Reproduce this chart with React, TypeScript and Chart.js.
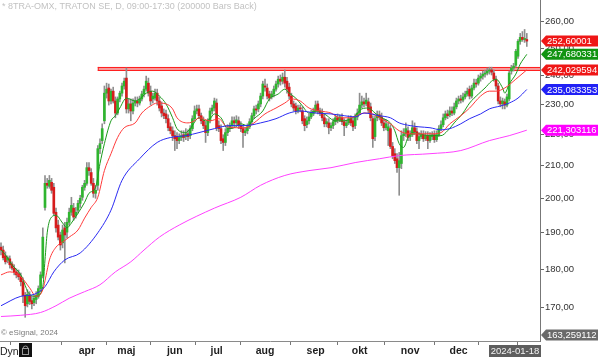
import React, { useEffect, useRef } from 'react';
import { Chart, registerables } from 'chart.js';

Chart.register(...registerables);

// ---- daily OHLC (bar index 0 = first visible day, last = 2024-01-18) ----
const opens = [
  186.0,185.2,183.6,182.5,182.8,181.4,180.3,179.3,178.8,178.0,176.7,173.1,171.0,173.1,171.8,171.3,172.1,172.9,174.9,178.2,
  197.3,204.5,203.6,204.8,203.3,195.9,192.2,189.4,187.2,191.4,190.2,193.0,195.9,197.1,195.0,196.5,198.5,200.3,203.3,204.5,
  209.3,207.8,204.5,201.5,203.9,215.3,217.9,224.4,233.8,235.6,231.1,234.5,231.1,227.0,231.8,233.8,236.3,239.1,228.4,230.1,
  227.7,230.4,231.1,230.4,231.8,233.5,235.2,237.3,234.5,231.8,232.1,233.8,231.1,229.4,227.0,226.7,225.1,222.4,221.1,219.5,
  219.2,217.9,218.9,219.8,219.2,220.1,219.5,221.8,225.1,227.7,228.4,226.1,224.4,222.8,220.5,224.4,227.7,228.7,230.4,222.8,
  221.8,218.5,217.3,220.5,221.8,222.8,224.4,223.7,224.4,222.8,221.8,220.5,221.1,222.4,224.1,226.1,228.4,228.4,230.1,232.8,
  236.3,235.6,233.5,232.5,233.5,235.2,237.0,238.7,238.0,239.4,238.0,235.9,232.8,230.1,229.4,227.7,228.7,227.7,225.1,223.1,
  224.4,225.7,226.7,227.7,230.1,227.7,227.0,225.4,223.4,223.7,222.1,222.8,224.1,225.4,224.7,225.4,224.1,222.8,223.7,225.1,
  224.4,222.8,225.7,227.0,229.7,230.8,230.1,230.8,229.1,225.1,219.2,225.4,226.4,225.7,223.7,222.1,221.1,221.8,216.0,213.7,
  212.1,209.3,210.6,219.5,220.1,221.1,219.2,219.8,222.1,220.8,217.9,219.2,219.8,218.5,219.5,217.9,219.2,219.8,218.2,219.8,
  221.8,223.1,225.4,226.7,226.4,227.7,227.0,229.1,231.1,231.8,231.4,232.5,233.5,235.2,232.8,235.6,237.3,237.3,239.1,239.8,
  240.5,240.9,241.6,242.0,240.9,238.7,236.3,231.1,230.1,230.8,229.7,231.8,241.6,242.7,243.7,247.0,252.5,254.0,253.2,253.2,
];
const highs = [
  187.2,186.3,184.7,183.6,183.6,182.0,181.2,180.1,179.8,179.0,177.7,173.9,174.6,174.1,172.9,173.1,174.1,175.6,179.3,191.4,
  206.9,206.0,206.9,206.0,204.5,197.1,193.6,190.2,192.2,193.0,194.2,197.1,200.3,198.5,197.3,199.4,200.9,203.9,205.4,210.9,
  210.9,209.0,206.0,203.9,216.3,218.5,223.4,236.3,237.3,237.0,235.2,235.9,232.5,232.5,234.5,237.3,239.1,242.7,231.8,231.8,
  231.8,232.5,232.5,232.8,234.5,236.3,239.8,239.1,236.3,233.8,235.2,235.2,232.5,230.8,228.4,228.0,226.4,223.7,222.4,221.1,
  220.5,220.1,221.1,221.1,221.8,221.4,222.8,226.1,229.4,229.7,229.7,227.0,225.7,224.1,225.1,228.7,229.7,232.1,231.8,224.4,
  223.1,219.8,221.8,223.1,223.7,225.7,225.7,226.1,225.7,224.1,223.1,222.1,223.4,225.1,227.0,229.4,229.7,231.1,233.8,238.0,
  238.7,237.0,234.5,234.5,236.3,238.0,239.8,240.2,240.9,242.0,239.4,237.3,233.8,231.1,230.4,229.7,229.7,229.1,226.1,225.7,
  226.7,228.0,228.7,231.1,231.1,228.7,228.4,226.7,225.1,225.1,223.7,225.1,226.4,226.7,226.4,226.7,225.1,224.7,226.1,226.1,
  225.4,226.7,228.4,233.8,232.8,232.1,233.8,232.1,230.4,226.1,226.1,227.7,227.7,227.0,225.1,224.7,223.7,223.1,217.3,215.3,
  213.7,214.1,221.1,221.8,223.7,222.4,221.1,224.4,223.7,222.1,220.5,221.1,221.1,220.8,220.8,220.5,220.8,221.1,221.1,222.8,
  224.4,226.7,227.7,228.0,229.1,229.1,230.4,232.1,232.8,233.1,233.8,234.5,235.6,236.3,236.6,238.7,238.7,240.2,240.9,241.6,
  242.0,242.7,243.0,243.0,242.0,239.8,237.3,232.5,232.1,231.8,233.5,241.6,243.7,244.4,249.5,253.2,255.5,256.2,257.0,255.5,
];
const lows = [
  183.9,182.5,181.4,181.7,180.3,179.8,178.5,177.7,177.2,175.6,171.3,167.6,170.2,170.8,169.7,170.5,171.0,172.4,174.1,177.7,
  196.5,203.0,203.0,201.5,195.0,190.2,188.0,185.2,185.8,181.7,188.6,192.2,195.0,193.6,194.2,195.6,197.3,199.4,202.4,203.9,
  206.9,203.9,200.3,200.0,202.4,213.7,216.9,223.4,232.1,229.7,230.1,230.4,225.4,226.4,230.8,232.8,235.2,227.0,227.0,224.4,
  226.7,229.4,229.1,229.7,231.1,232.5,234.5,232.8,229.7,230.4,231.4,229.7,227.7,225.7,225.1,223.7,221.1,220.1,217.9,214.7,
  215.3,216.9,217.9,217.6,218.2,217.9,218.5,221.1,224.4,226.7,225.1,223.4,221.8,217.3,219.5,223.7,226.7,227.7,221.1,220.8,
  216.9,214.7,216.3,219.5,220.8,221.8,222.4,223.1,221.8,220.8,215.7,219.5,220.1,221.8,223.1,225.1,226.7,227.4,229.1,231.8,
  234.5,231.8,231.1,231.8,232.5,234.5,235.9,236.6,237.0,235.9,233.8,231.8,229.1,227.7,226.7,227.0,227.4,223.4,221.1,222.1,
  223.4,225.1,226.1,227.0,226.7,226.1,224.4,222.4,222.4,220.1,221.1,221.8,223.1,223.7,224.1,223.1,219.5,222.1,223.1,222.8,
  221.1,221.8,224.7,226.4,228.7,229.1,229.4,227.0,224.4,215.7,217.9,224.4,224.7,222.8,221.1,221.4,216.3,215.3,212.1,210.6,
  207.8,200.9,209.0,217.9,219.2,217.9,217.9,219.2,219.8,216.9,215.3,218.5,217.6,217.9,215.3,217.3,218.2,217.3,217.6,219.2,
  221.1,222.4,224.7,225.1,225.7,226.1,226.4,228.4,230.1,230.4,230.8,231.8,232.8,231.8,232.1,234.9,235.9,236.6,238.0,238.7,
  239.4,240.2,240.5,240.2,238.0,235.2,230.1,229.1,228.4,228.4,229.1,231.1,240.5,241.6,243.0,246.2,251.4,252.5,252.1,250.6,
];
const closes = [
  185.2,183.1,182.0,183.1,181.2,180.3,179.3,178.5,178.0,176.7,173.1,170.5,173.4,171.6,171.0,172.4,173.1,174.9,178.5,188.8,
  204.5,203.9,205.4,202.4,195.6,191.4,188.8,186.6,190.8,189.4,193.0,195.9,197.9,194.5,195.9,198.5,200.0,203.3,204.5,209.3,
  208.4,204.5,201.5,202.4,215.3,216.9,221.8,233.8,235.2,231.1,234.5,231.1,227.0,231.8,233.8,236.3,238.0,228.4,230.1,227.7,
  230.4,231.1,230.4,231.8,233.5,235.2,238.0,233.8,231.1,232.8,233.8,231.1,228.7,227.0,226.1,225.1,222.1,221.1,219.5,218.5,
  217.9,218.9,219.5,218.9,220.1,219.2,221.8,225.1,227.7,228.4,226.1,224.4,222.8,220.5,224.4,227.7,228.7,231.1,222.1,221.8,
  217.9,217.3,220.5,221.8,222.8,224.4,223.7,224.7,222.8,221.8,220.5,221.1,222.4,224.1,226.1,228.4,228.0,230.1,232.8,237.0,
  235.9,232.8,232.1,233.5,235.2,237.0,238.7,238.0,239.4,237.3,235.2,232.8,230.1,228.7,227.7,228.7,228.4,224.4,222.8,224.4,
  225.7,227.0,227.7,229.7,227.7,227.0,225.4,223.4,224.1,222.1,222.8,224.1,225.4,224.7,225.7,224.1,222.8,223.7,225.1,223.7,
  222.4,225.7,227.0,229.7,230.8,230.1,231.4,228.0,225.4,218.5,225.1,226.4,225.7,223.7,222.1,223.4,222.4,216.0,213.1,211.5,
  209.3,211.5,219.5,220.1,221.8,218.9,219.8,222.1,220.8,217.9,219.2,219.8,218.5,219.5,217.9,219.5,219.8,218.2,219.8,221.8,
  223.1,225.4,226.7,226.1,227.7,227.0,229.1,231.1,231.8,231.4,232.5,233.5,234.5,232.8,235.6,237.3,237.0,239.1,239.8,240.5,
  240.9,241.6,242.0,241.2,238.7,236.3,231.1,230.1,231.1,229.7,232.5,240.9,242.7,243.4,248.8,252.5,254.0,253.2,253.6,252.6,
];

// ---- moving averages (bar index, value) ----
const maGreenIdx = [0,2,5,9,13,16,19,20,21,23,25,28,30,32,35,38,40,43,45,47,50,52,54,57,61,63,66,69,72,75,78,80,84,86,90,93,95,97,100,103,106,109,112,115,119,122,126,129,131,134,137,140,144,147,152,156,161,164,167,170,173,177,179,181,183,185,187,190,195,200,203,206,210,213,217,220,223,225,228,229,231,234,236,239];
const maGreenVal = [185.2,183.9,181.2,178.5,173.4,172.9,175.4,182.5,190.0,194.5,195.0,192.8,191.4,192.8,195.6,198.8,201.5,203.3,210.6,216.9,224.4,226.1,228.7,232.1,231.1,231.8,233.8,234.5,232.8,230.1,225.4,221.8,220.5,221.8,225.4,224.4,225.1,226.7,225.4,221.8,222.1,223.4,222.8,225.1,227.7,231.8,233.5,235.2,233.8,232.1,229.4,227.0,227.7,226.7,224.4,224.4,226.1,228.4,228.7,227.0,225.4,223.7,221.1,216.9,215.7,218.9,220.5,220.1,219.5,219.5,221.1,223.7,227.0,230.4,233.5,235.6,238.0,238.7,235.6,233.8,237.0,240.5,244.1,247.68];
const maRedIdx = [0,4,9,13,16,19,21,22,25,28,31,35,38,41,44,47,50,53,56,61,64,68,71,75,78,80,85,88,90,95,99,102,106,111,115,120,125,129,132,136,140,145,150,154,159,165,169,172,177,181,186,190,195,200,204,209,213,218,222,225,229,234,239];
const maRedVal = [178.5,179.3,178.0,175.1,172.9,174.6,179.8,182.5,186.0,187.4,188.8,190.8,194.2,197.3,200.3,208.4,213.7,218.9,222.1,223.7,227.0,229.4,230.4,230.1,228.4,225.4,223.7,224.4,225.4,224.4,225.1,222.8,222.1,222.1,223.7,226.7,228.7,230.4,231.8,231.1,228.7,227.7,227.0,225.4,225.4,227.0,226.7,225.4,223.4,221.1,220.1,220.1,220.1,220.5,223.4,226.1,228.7,232.8,234.5,234.5,235.6,238.7,242.03];
const maBlueIdx = [0,9,15,20,24,29,36,44,50,55,63,71,77,84,90,97,104,111,118,125,131,136,143,150,156,161,165,172,177,181,186,190,195,200,204,209,213,218,222,227,231,235,239];
const maBlueVal = [170.5,172.9,173.4,175.4,179.3,182.5,184.4,190.0,196.5,205.4,212.1,217.3,218.9,219.5,220.5,221.8,222.8,222.8,223.7,225.1,227.0,227.7,227.0,226.7,226.1,225.7,227.0,226.1,225.4,223.7,222.8,222.4,222.1,221.4,221.8,223.4,225.1,226.7,228.4,229.4,230.4,232.1,235.08];
const maMagentaIdx = [0,9,18,25,31,38,45,52,59,65,72,81,97,109,118,129,140,150,161,172,181,195,209,222,231,239];
const maMagentaVal = [167.8,168.1,168.8,170.5,172.4,174.1,175.9,179.3,182.0,185.2,188.8,192.2,197.1,200.3,203.9,206.9,208.4,209.3,210.9,212.1,213.1,213.7,214.7,217.9,219.5,221.3];

// ---- axes ----
const monthTickIdx = [16, 39, 57, 79, 98, 120, 143, 163, 186, 208, 226];
const monthTickLabels = ['', 'apr', 'maj', 'jun', 'jul', 'aug', 'sep', 'okt', 'nov', 'dec', ''];
const priceTicks = [170, 180, 190, 200, 210, 220, 230, 240, 250, 260];
const priceMin = 161.8;
const priceMax = 268.5;
const firstIdx = -0.4545;
const lastIdx = 245;

// ---- annotations ----
const resistanceBand = [241.7, 243.1];
const resistanceStartIdx = 44;
const tagValues = [252.60001, 247.680331, 242.029594, 235.083353, 221.303116, 163.259112];
const tagColors = ['#ef1616', '#119411', '#ef1616', '#2121f5', '#ff00ff', '#6a6a6a'];
const titleText = '* 8TRA-OMX, TRATON SE, D, 09:00-17:30 (200000 Bars Back)';
const copyrightText = '\u00a9 eSignal, 2024';
const lastDateText = '2024-01-18';

const FONT = 'Arial, "Liberation Sans", sans-serif';

const overlayPlugin = {
  id: 'overlay',
  beforeDatasetsDraw(chart: any) {
    const { ctx, chartArea, scales } = chart;
    const x = scales.x, y = scales.y;
    const top = y.getPixelForValue(resistanceBand[1]);
    const bot = y.getPixelForValue(resistanceBand[0]);
    const left = x.getPixelForValue(resistanceStartIdx);
    ctx.save();
    ctx.fillStyle = 'rgba(242,120,120,0.75)';
    ctx.fillRect(left, top, chartArea.right - left, bot - top);
    ctx.strokeStyle = '#ff2020';
    ctx.lineWidth = 1;
    ctx.beginPath();
    ctx.moveTo(left, Math.round(top) + 0.5);
    ctx.lineTo(chartArea.right, Math.round(top) + 0.5);
    ctx.moveTo(left, Math.round(bot) - 0.5);
    ctx.lineTo(chartArea.right, Math.round(bot) - 0.5);
    ctx.moveTo(left + 0.5, top);
    ctx.lineTo(left + 0.5, bot);
    ctx.stroke();
    ctx.restore();
  },
  afterDraw(chart: any) {
    const { ctx, chartArea, scales } = chart;
    const y = scales.y;
    ctx.save();
    // title
    ctx.fillStyle = '#c2c2c2';
    ctx.font = `9px ${FONT}`;
    ctx.textBaseline = 'middle';
    ctx.textAlign = 'left';
    ctx.fillText(titleText, 2, 7);
    // copyright
    ctx.fillStyle = '#7a7a7a';
    ctx.font = `8px ${FONT}`;
    ctx.fillText(copyrightText, 1, 333);
    // Dyn + icon
    ctx.fillStyle = '#222';
    ctx.font = `10.5px ${FONT}`;
    ctx.fillText('Dyn', 0, 352);
    ctx.fillStyle = '#111';
    ctx.fillRect(19, 343, 13, 14);
    ctx.strokeStyle = '#9a9a9a';
    ctx.lineWidth = 1;
    ctx.strokeRect(22.5, 348.5, 6, 6);
    ctx.beginPath();
    ctx.arc(25.5, 348.5, 2.5, Math.PI, 0);
    ctx.stroke();
    // last date box
    const dx = 489, dw = 52;
    ctx.fillStyle = '#5e5e5e';
    ctx.fillRect(dx, 345, dw, 12);
    ctx.fillStyle = '#f4f4f4';
    ctx.font = `9.5px ${FONT}`;
    ctx.textAlign = 'center';
    ctx.fillText(lastDateText, dx + dw / 2, 351.5);
    // value tags
    ctx.textAlign = 'left';
    tagValues.forEach((v, k) => {
      const yy = y.getPixelForValue(v);
      const x0 = chartArea.right + 1;
      const h = 11;
      ctx.fillStyle = tagColors[k];
      ctx.beginPath();
      ctx.moveTo(x0, yy);
      ctx.lineTo(x0 + 5, yy - h / 2);
      ctx.lineTo(598, yy - h / 2);
      ctx.lineTo(598, yy + h / 2);
      ctx.lineTo(x0 + 5, yy + h / 2);
      ctx.closePath();
      ctx.fill();
      ctx.fillStyle = '#ffffff';
      ctx.font = `9.5px ${FONT}`;
      ctx.fillText(String(v).replace('.', ','), x0 + 6, yy + 0.5);
    });
    ctx.restore();
  },
};

function maLine(idx: number[], val: number[], color: string) {
  return {
    type: 'line' as const,
    data: idx.map((i, k) => ({ x: i, y: val[k] })),
    borderColor: color,
    borderWidth: 1,
    pointRadius: 0,
    fill: false,
    cubicInterpolationMode: 'monotone' as const,
    order: 1,
  };
}

export default function App() {
  const ref = useRef<HTMLCanvasElement | null>(null);
  useEffect(() => {
    if (!ref.current) return;
    const wicks = closes.map((_, i) => ({ x: i, y: [lows[i], highs[i]] }));
    const bodies = closes.map((c, i) => ({ x: i, y: [opens[i], c] }));
    const bodyColors = closes.map((c, i) => (c >= opens[i] ? '#2fb52f' : '#d61c1c'));
    const chart = new Chart(ref.current, {
      type: 'bar',
      data: {
        datasets: [
          maLine(maMagentaIdx, maMagentaVal, '#ff40ff'),
          maLine(maBlueIdx, maBlueVal, '#2a2af2'),
          maLine(maRedIdx, maRedVal, '#ff3a3a'),
          maLine(maGreenIdx, maGreenVal, '#1c9a1c'),
          {
            type: 'bar',
            data: bodies as any,
            backgroundColor: bodyColors,
            barThickness: 2,
            minBarLength: 1,
            grouped: false,
            order: 2,
          } as any,
          {
            type: 'bar',
            data: wicks as any,
            backgroundColor: '#8e8e8e',
            barThickness: 1,
            grouped: false,
            order: 3,
          } as any,
        ],
      },
      options: {
        animation: false,
        responsive: false,
        events: [],
        layout: { padding: 0 },
        plugins: { legend: { display: false }, tooltip: { enabled: false } },
        scales: {
          x: {
            type: 'linear',
            min: firstIdx,
            max: lastIdx,
            offset: false,
            afterBuildTicks: (s: any) => {
              s.ticks = monthTickIdx.map((v) => ({ value: v }));
            },
            afterFit: (s: any) => {
              s.height = 16;
              s.paddingLeft = 0;
              s.paddingRight = 0;
            },
            ticks: {
              autoSkip: false,
              maxRotation: 0,
              padding: 0,
              color: '#1e1e1e',
              font: { size: 10.5, weight: 'bold', family: FONT },
              callback: (_v: any, i: number) => monthTickLabels[i],
            },
            grid: { drawOnChartArea: false, drawTicks: true, tickLength: 4, color: '#777' },
            border: { color: '#8a8a8a', width: 1 },
          },
          y: {
            type: 'logarithmic',
            position: 'right',
            min: priceMin,
            max: priceMax,
            afterBuildTicks: (s: any) => {
              s.ticks = priceTicks.map((v) => ({ value: v }));
            },
            afterFit: (s: any) => {
              s.width = 60;
              s.paddingTop = 0;
              s.paddingBottom = 0;
            },
            ticks: {
              autoSkip: false,
              padding: 1,
              color: '#333',
              font: { size: 9.5, family: FONT },
              callback: (v: any) => Number(v).toFixed(2).replace('.', ','),
            },
            grid: { drawOnChartArea: false, drawTicks: true, tickLength: 4, color: '#666' },
            border: { color: '#777', width: 1 },
          },
        },
      } as any,
      plugins: [overlayPlugin],
    });
    return () => chart.destroy();
  }, []);
  return (
    <canvas
      ref={ref}
      width={600}
      height={357}
      style={{ position: 'absolute', left: 0, top: 0, width: 600, height: 357, background: '#fff' }}
    />
  );
}
